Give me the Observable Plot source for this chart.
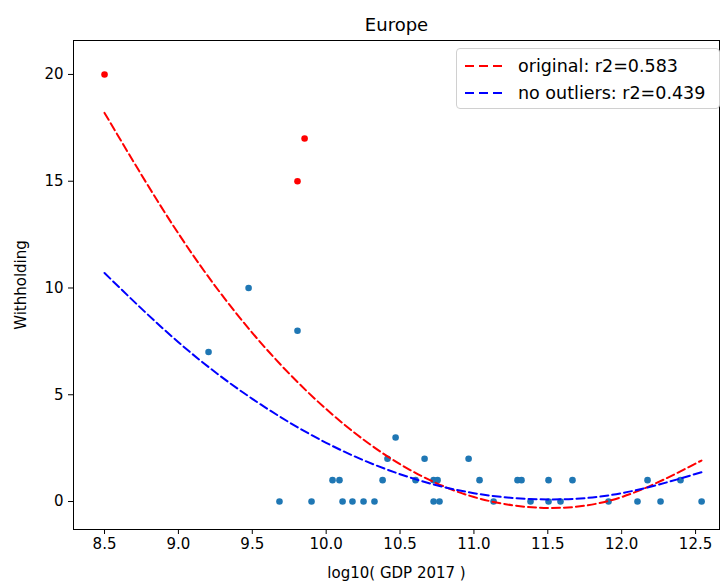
<!DOCTYPE html>
<html>
<head>
<meta charset="utf-8">
<script src="https://cdn.jsdelivr.net/npm/d3@7"></script>
<script src="https://cdn.jsdelivr.net/npm/@observablehq/plot@0.6"></script>
<style>
  body { margin: 0; background: white; font-family: "DejaVu Sans", sans-serif; }
  #wrap { position: relative; width: 726px; height: 587px; }
  #legend {
    position: absolute; left: 456px; top: 48px; width: 264px; height: 61px;
    border: 1px solid #d0d0d0; border-radius: 4px; background: rgba(255,255,255,0.85);
    font-family: "DejaVu Sans", sans-serif; font-size: 17.5px; color: #000;
    box-sizing: border-box; padding-top: 3px;
  }
  .row { display: flex; align-items: center; height: 27px; padding-left: 8px; white-space: nowrap; }
  .row svg { margin-right: 11px; flex: none; }
</style>
</head>
<body>
<div id="wrap"></div>
<script>
// Scatter data
const outlierX = [8.50, 9.854, 9.806];
const outlierY = [20, 17, 15];
const pointX = [9.204, 9.475, 9.806, 10.470, 10.415, 10.666, 10.964,
  10.043, 10.090, 10.382, 10.605, 10.727, 10.754, 11.038, 11.295, 11.322, 11.505, 11.667, 12.175, 12.398,
  9.684, 9.901, 10.111, 10.178, 10.253, 10.327, 10.727, 10.767, 11.133, 11.383, 11.505, 11.586, 11.911, 12.107, 12.263, 12.541];
const pointY = [7, 10, 8, 3, 2, 2, 2,
  1, 1, 1, 1, 1, 1, 1, 1, 1, 1, 1, 1, 1,
  0, 0, 0, 0, 0, 0, 0, 0, 0, 0, 0, 0, 0, 0, 0, 0];

// Fit curves
const fitX = [8.5, 9.0, 9.5, 10.0, 10.5, 11.0, 11.5, 12.0, 12.54];
const fitOriginal = [18.2, 12.55, 7.9, 4.33, 1.75, 0.21, -0.3, 0.21, 1.92];
const fitNoOutliers = [10.7, 7.46, 4.81, 2.75, 1.28, 0.39, 0.1, 0.39, 1.37];

const xTicks = [8.5, 9.0, 9.5, 10.0, 10.5, 11.0, 11.5, 12.0, 12.5];
const yTicks = [0, 5, 10, 15, 20];
const legendLabels = ["original: r2=0.583", "no outliers: r2=0.439"];
const legendColors = ["red", "blue"];

const points = pointX.map((x, i) => ({x, y: pointY[i]}));
const outliers = outlierX.map((x, i) => ({x, y: outlierY[i]}));
const redFit = fitX.map((x, i) => ({x, y: fitOriginal[i]}));
const blueFit = fitX.map((x, i) => ({x, y: fitNoOutliers[i]}));

const chart = Plot.plot({
  width: 726,
  height: 587,
  marginLeft: 73,
  marginRight: 7,
  marginTop: 40,
  marginBottom: 58,
  style: {fontFamily: "DejaVu Sans, sans-serif", fontSize: "15px", color: "black", background: "white"},
  x: {domain: [8.29, 12.662], ticks: xTicks, tickFormat: d3.format(".1f"), label: "log10( GDP 2017 )"},
  y: {domain: [-1.31, 21.59], ticks: yTicks, label: "Withholding"},
  marks: [
    Plot.frame({stroke: "black", strokeWidth: 1}),
    Plot.axisX({ticks: xTicks, tickFormat: d3.format(".1f"), tickSize: 5, tickPadding: 4, fontSize: 15,
      label: "log10( GDP 2017 )", labelAnchor: "center", labelArrow: "none", labelOffset: 48}),
    Plot.axisY({ticks: yTicks, tickSize: 5, tickPadding: 5, fontSize: 15,
      label: "Withholding", labelAnchor: "center", labelArrow: "none", labelOffset: 58}),
    Plot.dot(points, {x: "x", y: "y", r: 3.3, fill: "#1f77b4", stroke: "none"}),
    Plot.dot(outliers, {x: "x", y: "y", r: 3.3, fill: "red", stroke: "none"}),
    Plot.line(redFit, {x: "x", y: "y", stroke: "red", strokeWidth: 2, strokeDasharray: "8,4", curve: "natural"}),
    Plot.line(blueFit, {x: "x", y: "y", stroke: "blue", strokeWidth: 2, strokeDasharray: "8,4", curve: "natural"}),
    Plot.text(["Europe"], {frameAnchor: "top", dy: -22, fontSize: 18, fill: "black"})
  ]
});

const wrap = document.getElementById("wrap");
wrap.appendChild(chart);

const legend = document.createElement("div");
legend.id = "legend";
legendLabels.forEach((lab, i) => {
  const row = document.createElement("div");
  row.className = "row";
  row.innerHTML = `<svg width="42" height="6"><line x1="0" y1="3" x2="42" y2="3" stroke="${legendColors[i]}" stroke-width="2" stroke-dasharray="9,5"/></svg><span>${lab}</span>`;
  legend.appendChild(row);
});
wrap.appendChild(legend);
</script>
</body>
</html>
